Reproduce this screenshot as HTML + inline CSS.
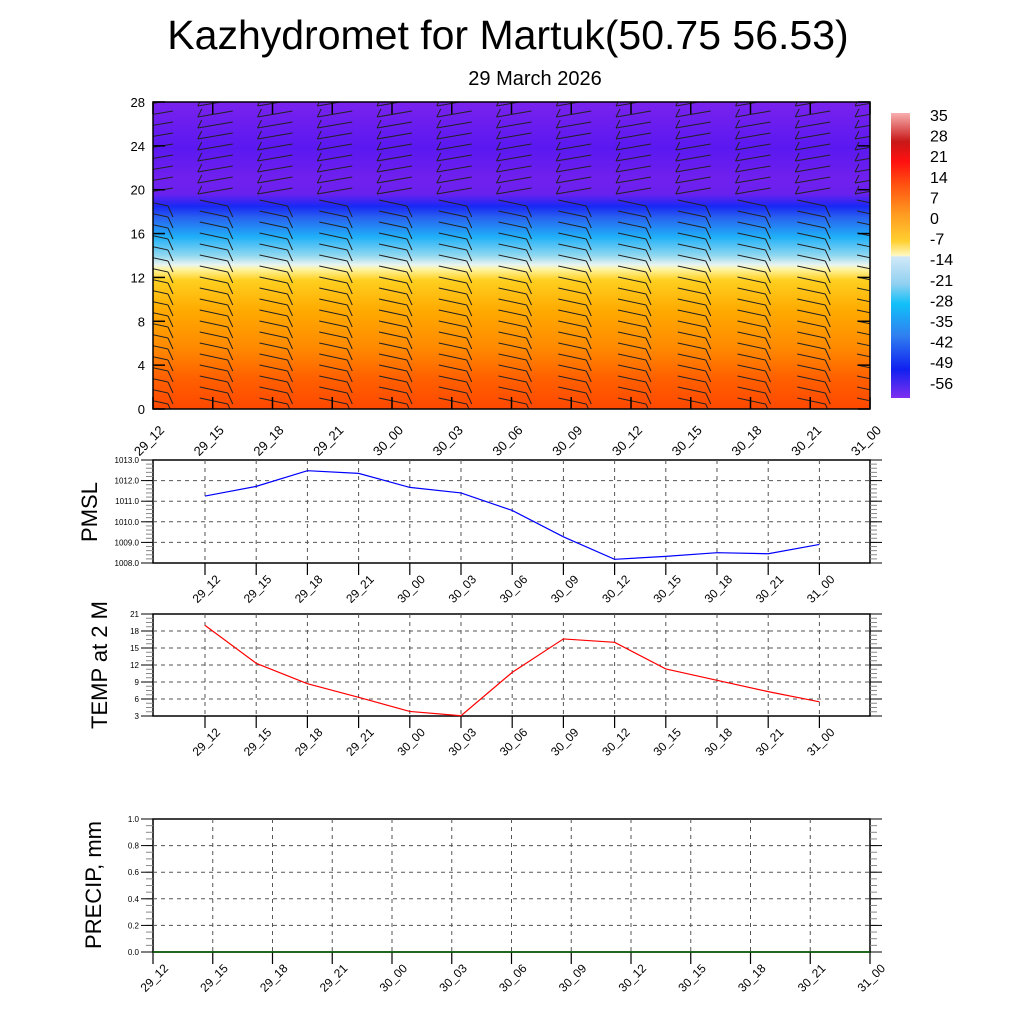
<!DOCTYPE html>
<html><head><meta charset="utf-8">
<style>html,body{margin:0;padding:0;background:#fff;}svg{display:block;font-family:"Liberation Sans",sans-serif;}</style>
</head><body>
<svg id="s" width="1024" height="1024" viewBox="0 0 1024 1024" xmlns="http://www.w3.org/2000/svg">
<defs>
<linearGradient id="g" x1="0" y1="102" x2="0" y2="409" gradientUnits="userSpaceOnUse">
<stop offset="0" stop-color="#7a22ee"/>
<stop offset="0.15" stop-color="#5a18f0"/>
<stop offset="0.25" stop-color="#7020ee"/>
<stop offset="0.3" stop-color="#6a20ee"/>
<stop offset="0.34" stop-color="#1828f5"/>
<stop offset="0.375" stop-color="#2860f0"/>
<stop offset="0.44" stop-color="#20b0f8"/>
<stop offset="0.5" stop-color="#90d8f0"/>
<stop offset="0.53" stop-color="#e8f4f0"/>
<stop offset="0.545" stop-color="#fff4a0"/>
<stop offset="0.58" stop-color="#ffd020"/>
<stop offset="0.68" stop-color="#ffaa00"/>
<stop offset="0.8" stop-color="#ff8a00"/>
<stop offset="0.9" stop-color="#ff6000"/>
<stop offset="1" stop-color="#ff4800"/>
</linearGradient>
<linearGradient id="cb" x1="0" y1="113" x2="0" y2="398" gradientUnits="userSpaceOnUse">
<stop offset="0" stop-color="#f8b0b0"/>
<stop offset="0.1" stop-color="#c81818"/>
<stop offset="0.17" stop-color="#ff1010"/>
<stop offset="0.25" stop-color="#ff5010"/>
<stop offset="0.35" stop-color="#ff9820"/>
<stop offset="0.45" stop-color="#ffd030"/>
<stop offset="0.5" stop-color="#fff8c0"/>
<stop offset="0.505" stop-color="#d0e8f8"/>
<stop offset="0.6" stop-color="#90d0f0"/>
<stop offset="0.67" stop-color="#10c0f8"/>
<stop offset="0.78" stop-color="#3080f0"/>
<stop offset="0.9" stop-color="#1020f0"/>
<stop offset="1" stop-color="#8030f0"/>
</linearGradient>
<clipPath id="cp"><rect x="153" y="102" width="717" height="307"/></clipPath>
</defs>
<rect width="1024" height="1024" fill="#fff"/>
<text x="508" y="49" font-size="41" text-anchor="middle">Kazhydromet for Martuk(50.75 56.53)</text>
<text x="535" y="85" font-size="20" text-anchor="middle">29 March 2026</text>
<rect x="153" y="102" width="717" height="307" fill="url(#g)"/>
<rect x="891" y="113" width="19" height="285" fill="url(#cb)"/>
<g id="dyn"></g>
</svg>
<script>
var d=document.getElementById('dyn'),h='';
function L(x1,y1,x2,y2,c,w,da){h+='<line x1="'+x1+'" y1="'+y1+'" x2="'+x2+'" y2="'+y2+'" stroke="'+(c||'#000')+'" stroke-width="'+(w||1)+'"'+(da?' stroke-dasharray="'+da+'"':'')+'/>';}
function T(x,y,s,fs,anc,rot){h+='<text x="'+x+'" y="'+y+'" font-size="'+fs+'" text-anchor="'+(anc||'start')+'"'+(rot?' transform="rotate('+rot+' '+x+' '+y+')"':'')+'>'+s+'</text>';}
var labs=['29_12','29_15','29_18','29_21','30_00','30_03','30_06','30_09','30_12','30_15','30_18','30_21','31_00'];
h+='<g clip-path="url(#cp)">';
for(var c=0;c<13;c++){var xr=168+c*59.75;
 for(var y=104;y<409;y+=11){var up=y<200;
  if(up){L(xr-30,y+2,xr+5,y-4,'#222',1);L(xr-30,y+2,xr-26,y-6,'#222',1);}
  else{L(xr-28,y-3,xr,y+3,'#222',1);L(xr,y+3,xr+5,y+14,'#222',1);}
 }}
h+='</g>';
h+='<rect x="153" y="102" width="717" height="307" fill="none" stroke="#000" stroke-width="1.5"/>';
for(var i=0;i<13;i++){var x=153+i*59.75;L(x,409,x,397,'#000',1.5);L(x,102,x,114,'#000',1.5);T(x+12,431,labs[i],13,'end',-45);}
for(var v=0;v<=28;v+=4){var y=409-v*307/28;L(153,y,165,y,'#000',1.5);L(870,y,858,y,'#000',1.5);T(145,y+5,v,13,'end');}
var cl=[35,28,21,14,7,0,-7,-14,-21,-28,-35,-42,-49,-56];
for(var i=0;i<14;i++)T(930,121+i*20.6,cl[i],16);
function panel(y0,y1,vmin,vmax,step,minor,fmt,data,col,label,gx0,gdx,lx,ly){
 h+='<rect x="153" y="'+y0+'" width="717" height="'+(y1-y0)+'" fill="none" stroke="#000" stroke-width="1.5"/>';
 var sc=(y1-y0)/(vmax-vmin);
 for(var v=vmin;v<=vmax+1e-9;v+=minor){var y=y1-(v-vmin)*sc;L(146,y,153,y,'#888',1);L(870,y,877,y,'#888',1);}
 for(var v=vmin;v<=vmax+1e-9;v+=step){var y=y1-(v-vmin)*sc;L(141,y,153,y,'#000',1);L(870,y,882,y,'#000',1);
  if(v>vmin+1e-9&&v<vmax-1e-9)L(153,y,870,y,'#555',1,'4,4');T(139,y+3,fmt(v),8,'end');}
 for(var i=0;i<13;i++){var x=gx0+i*gdx;if(x>153.5&&x<869.5)L(x,y0,x,y1,'#555',1,'4,4');L(x,y1,x,y1+12,'#000',1.2);T(x+16,y1+17,labs[i],12,'end',-45);}
 if(data){var p='';for(var i=0;i<data.length;i++){p+=(gx0+i*gdx)+','+(y1-(data[i]-vmin)*sc)+' ';}h+='<polyline points="'+p+'" fill="none" stroke="'+col+'" stroke-width="1.2"/>';}
 T(lx,ly,label,22,'middle',-90);
}
panel(460,563,1008,1013,1,0.2,function(v){return v.toFixed(1)},[1011.25,1011.72,1012.48,1012.35,1011.67,1011.40,1010.55,1009.27,1008.18,1008.32,1008.5,1008.45,1008.9],'#00f','PMSL',205,51.2,97,512);
panel(614,716,3,21,3,0.75,function(v){return v},[19,12.3,8.7,6.3,3.8,3.05,10.7,16.6,16.0,11.3,9.3,7.3,5.5],'#f00','TEMP at 2 M',205,51.2,107,665);
panel(819,952,0,1,0.2,0.05,function(v){return v.toFixed(1)},null,'','PRECIP, mm',153,59.75,101,885);
L(153,952,870,952,'#006000',1.5);
d.innerHTML=h;
</script>
</body></html>
